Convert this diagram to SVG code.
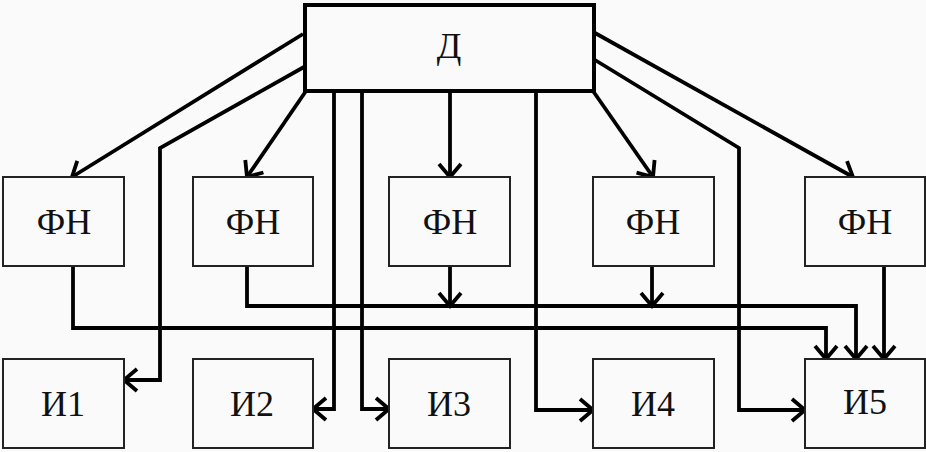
<svg xmlns="http://www.w3.org/2000/svg" width="926" height="452" viewBox="0 0 926 452">
<style>
.bg{fill:#fafafa}
.box{fill:#fafafa;stroke:#222;stroke-width:2}
.main{fill:#fafafa;stroke:#000;stroke-width:4}
.lbl{font-family:"Liberation Serif","Times New Roman",serif;font-size:36px;fill:#111;text-anchor:middle}
.c{fill:none;stroke:#000;stroke-width:3.8;stroke-linejoin:miter}
.a{marker-end:url(#arr)}
</style>
<defs>
<marker id="arr" markerUnits="userSpaceOnUse" viewBox="-16 -14 18 28" refX="0" refY="0" markerWidth="18" markerHeight="28" orient="auto" overflow="visible">
<path d="M-13,-11 L0,0 L-13,11" fill="none" stroke="#000" stroke-width="3.8" stroke-linejoin="miter"/>
</marker>
</defs>
<rect class="bg" x="0" y="0" width="926" height="452"/>
<g id="connectors">
<path class="c a" d="M303,34 L72,177"/>
<path class="c a" d="M304,67 L160,148 L160,380 L124,380"/>
<path class="c a" d="M306,91 L247,177"/>
<path class="c a" d="M334,90 L334,409 L313,409"/>
<path class="c a" d="M362,90 L362,409 L389,409"/>
<path class="c a" d="M450,90 L450,177"/>
<path class="c a" d="M536,90 L536,410 L593,410"/>
<path class="c a" d="M593,91 L653,177"/>
<path class="c a" d="M595,60 L739,148 L739,410 L805,410"/>
<path class="c a" d="M595,33 L853,177"/>
<path class="c a" d="M73,266 L73,328 L826,328 L826,359"/>
<path class="c a" d="M247,266 L247,306 L856,306 L856,359"/>
<path class="c a" d="M450,266 L450,306"/>
<path class="c a" d="M652,266 L652,306"/>
<path class="c a" d="M884,266 L884,359"/>
</g>
<g id="D"><rect class="main" x="305" y="5" width="289" height="86"/><text class="lbl" x="449" y="58">Д</text></g>
<g id="FN1"><rect class="box" x="3" y="177" width="121" height="89"/><text class="lbl" x="64" y="234">ФН</text></g>
<g id="FN2"><rect class="box" x="193" y="177" width="120" height="89"/><text class="lbl" x="253" y="234">ФН</text></g>
<g id="FN3"><rect class="box" x="389" y="177" width="121" height="89"/><text class="lbl" x="450" y="234">ФН</text></g>
<g id="FN4"><rect class="box" x="593" y="177" width="121" height="89"/><text class="lbl" x="653" y="234">ФН</text></g>
<g id="FN5"><rect class="box" x="805" y="177" width="120" height="89"/><text class="lbl" x="865" y="234">ФН</text></g>
<g id="I1"><rect class="box" x="3" y="359" width="121" height="89"/><text class="lbl" x="63" y="416">И1</text></g>
<g id="I2"><rect class="box" x="193" y="359" width="120" height="89"/><text class="lbl" x="252" y="416">И2</text></g>
<g id="I3"><rect class="box" x="389" y="359" width="121" height="89"/><text class="lbl" x="449" y="416">И3</text></g>
<g id="I4"><rect class="box" x="593" y="359" width="121" height="89"/><text class="lbl" x="653" y="416">И4</text></g>
<g id="I5"><rect class="box" x="805" y="359" width="120" height="89"/><text class="lbl" x="865" y="414">И5</text></g>
</svg>
